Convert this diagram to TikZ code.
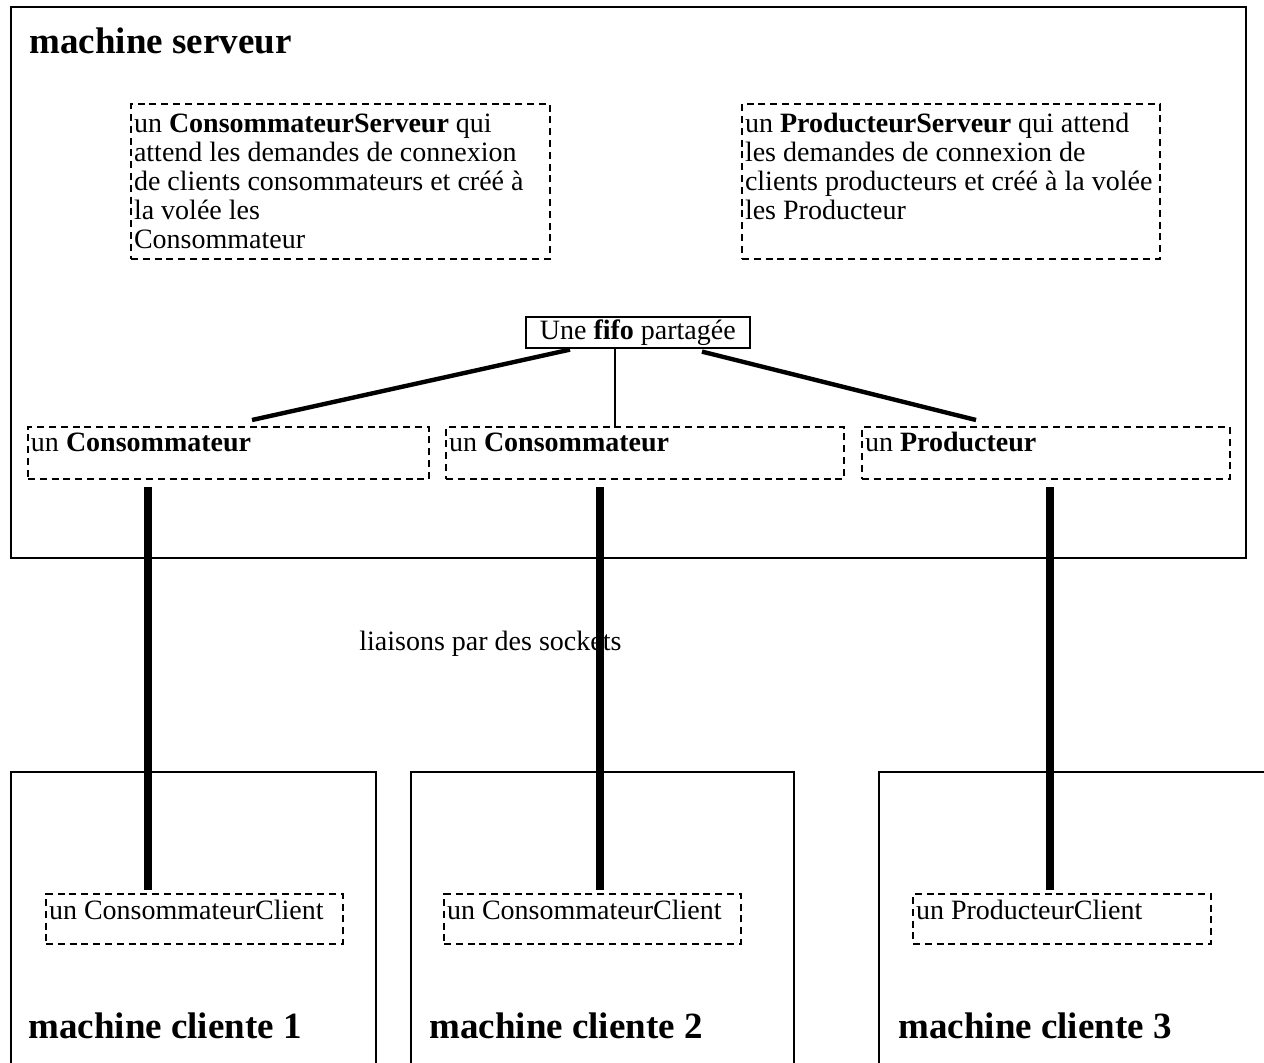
\documentclass[tikz,border=0pt]{standalone}
\usepackage{fontspec}
\setmainfont{Liberation Serif}
\usetikzlibrary{calc}
\newcommand{\tlbox}[4]{\parbox[c][#2][t]{#1}{\begin{tabular}[t]{@{}l@{}}\rule{0pt}{#3}#4\end{tabular}}}
\begin{document}
\begin{tikzpicture}[x=0.5pt,y=-0.5pt,
  every node/.append style={font=\fontsize{14}{14.5}\selectfont},
  mach/.style={draw, line width=1pt, inner sep=0pt, anchor=north west},
  dbox/.style={draw, line width=1pt, dash pattern=on 3.5pt off 2.4pt, inner xsep=1.5pt, inner ysep=0pt, anchor=north west},
  title/.style={anchor=base west, inner sep=0pt, font=\bfseries\fontsize{18.5}{20}\selectfont},
  sock/.style={line width=4pt},
  fifolink/.style={line width=2.2pt},
  midlink/.style={line width=1.3pt}]
\path[use as bounding box, clip] (0,0) rectangle (1264,1062);
\fill[white] (0,0) rectangle (1264,1062);

% server machine
\node[mach, minimum width=617.5pt, minimum height=275.5pt] (srv) at (10,6) {};
\node[title] (srvlbl) at (29,53) {machine serveur};

\node[dbox] (cs) at (130,103) {\tlbox{206.5pt}{77.5pt}{14pt}{un \textbf{ConsommateurServeur} qui\\attend les demandes de connexion\\de clients consommateurs et créé à\\la volée les\\Consommateur}};
\node[dbox] (ps) at (741,103) {\tlbox{206pt}{77.5pt}{14pt}{un \textbf{ProducteurServeur} qui attend\\les demandes de connexion de\\clients producteurs et créé à la volée\\les Producteur}};

\node[draw, line width=0.8pt, minimum width=112pt, minimum height=15.5pt, inner sep=0pt, anchor=north west] (fifo) at (525,316) {Une \textbf{fifo} partagée};

\node[dbox] (c1) at (27,426) {\tlbox{197.5pt}{26pt}{12pt}{un \textbf{Consommateur}}};
\node[dbox] (c2) at (445,426) {\tlbox{196pt}{26pt}{12pt}{un \textbf{Consommateur}}};
\node[dbox] (p) at (861,426) {\tlbox{181pt}{26pt}{12pt}{un \textbf{Producteur}}};

% client machines
\node[mach, line width=0.8pt, minimum width=182.5pt, minimum height=160pt] (m1) at (10,771) {};
\node[mach, line width=0.8pt, minimum width=191.5pt, minimum height=160pt] (m2) at (410,771) {};
\node[mach, line width=0.8pt, minimum width=210pt, minimum height=160pt] (m3) at (878,771) {};

\node[dbox] (cc1) at (45,893) {\tlbox{145.5pt}{25pt}{12.5pt}{un ConsommateurClient}};
\node[dbox] (cc2) at (443,893) {\tlbox{145.5pt}{25pt}{12.5pt}{un ConsommateurClient}};
\node[dbox] (cp) at (912,893) {\tlbox{146pt}{25pt}{12.5pt}{un ProducteurClient}};

\node[title] (l1) at (28,1038) {machine cliente 1};
\node[title] (l2) at (429,1038) {machine cliente 2};
\node[title] (l3) at (898,1038) {machine cliente 3};

\node[anchor=base west, inner sep=0pt] (sk) at (359,650) {liaisons par des sockets};

% connectors
\draw[fifolink] ($(fifo.south west)+(45,1)$) -- ($(c1.north west)+(225,-6)$);
\draw[midlink] ($(fifo.south west)+(90,0)$) -- ($(c2.north west)+(170,0)$);
\draw[fifolink] ($(fifo.south west)+(177,3)$) -- ($(p.north west)+(115,-6)$);

\draw[sock] ($(c1.south west)+(121,7)$) -- ($(cc1.north west)+(103,-3)$);
\draw[sock] ($(c2.south west)+(155,7)$) -- ($(cc2.north west)+(157,-3)$);
\draw[sock] ($(p.south west)+(189,7)$) -- ($(cp.north west)+(138,-3)$);
\end{tikzpicture}
\end{document}
